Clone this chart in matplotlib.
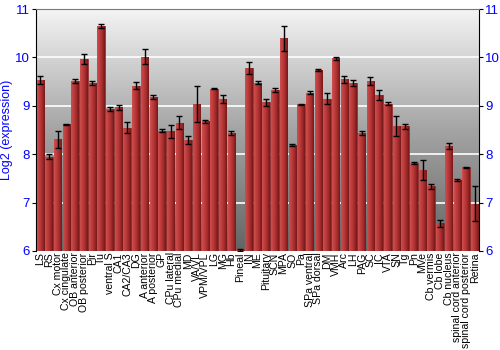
import numpy as np
import matplotlib
matplotlib.use('Agg')
import matplotlib.pyplot as plt
from matplotlib.colors import LinearSegmentedColormap

plt.rcParams['font.family'] = ['Liberation Sans', 'DejaVu Sans']

# regions and log2 expression values
regions = ['LS', 'RS', 'Cx motor', 'Cx cingulate', 'OB anterior', 'OB posterior',
           'Pir', 'Tu', 'ventral S', 'CA1', 'CA2/CA3', 'DG', 'A anterior',
           'A posterior', 'GP', 'CPu lateral', 'CPu medial', 'MD', 'VA/VL',
           'VPM/VPL', 'LG', 'MG', 'Hb', 'Pineal', 'IN', 'ME', 'Pituitary', 'SCN',
           'MPA', 'SO', 'Pa', 'SPa ventral', 'SPa dorsal', 'DM', 'VMH', 'Arc',
           'LH', 'PAG', 'SC', 'IC', 'VTA', 'SN', 'Tg', 'Pn', 'MVe', 'Cb vermis',
           'Cb lobe', 'Cb nucleus', 'spinal cord anterior',
           'spinal cord posterior', 'Retina']
values = [9.54, 7.95, 8.31, 8.62, 9.52, 9.97, 9.48, 10.65, 8.93, 8.97, 8.55,
          9.42, 10.02, 9.19, 8.49, 8.47, 8.65, 8.30, 9.04, 8.68, 9.35, 9.14,
          8.44, 6.02, 9.78, 9.48, 9.07, 9.33, 10.40, 8.19, 9.03, 9.27, 9.75,
          9.15, 9.98, 9.55, 9.48, 8.43, 9.52, 9.22, 9.04, 8.58, 8.58, 7.82,
          7.67, 7.34, 6.57, 8.17, 7.47, 7.73, 6.98]
errors = [0.08, 0.05, 0.18, 0.01, 0.04, 0.10, 0.04, 0.05, 0.04, 0.05, 0.11,
          0.08, 0.16, 0.04, 0.04, 0.13, 0.13, 0.08, 0.38, 0.03, 0.01, 0.08,
          0.04, 0.02, 0.12, 0.03, 0.08, 0.04, 0.26, 0.02, 0.01, 0.03, 0.02,
          0.12, 0.03, 0.07, 0.06, 0.04, 0.08, 0.10, 0.03, 0.20, 0.05, 0.02,
          0.20, 0.05, 0.08, 0.06, 0.02, 0.01, 0.36]
base = 6

fig = plt.figure(figsize=(5, 3.5), dpi=100)
ax = fig.add_axes([0.072, 0.283, 0.886, 0.691])

x = np.arange(len(regions))
xmin, xmax = -0.5, len(regions) - 0.5

# gray gradient background
bg = LinearSegmentedColormap.from_list('bg', ['#646464', '#a4a4a4', '#f4f4f4'])
grad = np.linspace(0, 1, 256).reshape(-1, 1)
ax.imshow(grad, cmap=bg, origin='lower', aspect='auto',
          extent=[xmin, xmax, 6, 11], zorder=0)

for yv in [7, 8, 9, 10]:
    ax.axhline(yv, color='white', lw=1.2, zorder=1)

heights = np.array(values) - base
bars = ax.bar(x, heights, width=0.86, bottom=base, color='#b03535',
              edgecolor='#8a2424', lw=0.5, zorder=2)

# horizontal shading inside each bar
redmap = LinearSegmentedColormap.from_list('red', ['#cc5050', '#bf3c3c', '#a52c2c', '#741818'])
hgrad = np.linspace(0, 1, 64).reshape(1, -1)
for b in bars:
    bx, bw, by, bh = b.get_x(), b.get_width(), b.get_y(), b.get_height()
    im = ax.imshow(hgrad, cmap=redmap, aspect='auto',
                   extent=[bx, bx + bw, by, by + bh], zorder=3)
    im.set_clip_path(b)

ax.errorbar(x, values, yerr=errors, fmt='none', ecolor='black', elinewidth=1,
            capsize=2, capthick=1, zorder=4)

ax.set_xlim(xmin, xmax)
ax.set_ylim(6, 11)
ax.set_xticks(x)
ax.set_xticklabels(regions, rotation=90, fontsize=7.6, linespacing=1)
ax.tick_params(axis='x', length=0, pad=1)
ax.set_yticks([6, 7, 8, 9, 10, 11])
ax.tick_params(axis='y', colors='black', labelcolor='blue', labelsize=9.5,
               direction='out', length=3, pad=1.5, left=True, right=True,
               labelleft=True, labelright=True)
ax.set_ylabel('Log2 (expression)', color='blue', fontsize=9)
ax.yaxis.set_label_coords(-0.053, 0.5)

ax.spines['top'].set_color('#777777')
ax.spines['bottom'].set_visible(False)

fig.savefig('out.png', dpi=100)
